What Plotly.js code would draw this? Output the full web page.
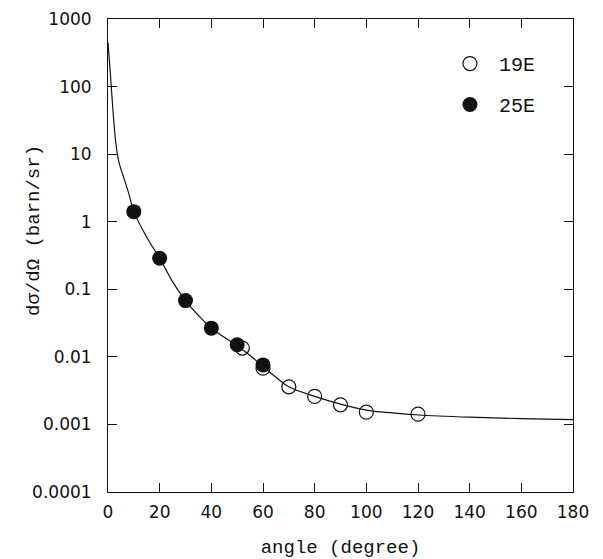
<!DOCTYPE html>
<html><head><meta charset="utf-8">
<script src="https://cdn.plot.ly/plotly-3.0.1.min.js"></script>
<style>body{margin:0;background:#fff}</style>
</head><body><div id="chart" style="width:603px;height:559px"></div>
<script>
// Data
const angle19 = [52, 60, 70, 80, 90, 100, 120];
const xsec19  = [0.0135, 0.0068, 0.0036, 0.0026, 0.00195, 0.00152, 0.00142];
const angle25 = [10, 20, 30, 40, 50, 60];
const xsec25  = [1.41, 0.288, 0.068, 0.0266, 0.0151, 0.0076];
const curveAngle = [0, 1, 2, 3, 4, 5, 6, 8, 10, 15, 20, 25, 30, 35, 40, 45, 50, 55, 60, 65, 70, 80, 90, 100, 110, 120, 140, 160, 180];
const curveXsec  = [450, 140, 40, 15, 8.3, 6.0, 4.6, 2.65, 1.41, 0.59, 0.288, 0.13, 0.068, 0.041, 0.0266, 0.0195, 0.0145, 0.0105, 0.0072, 0.005, 0.0036, 0.0026, 0.002, 0.00163, 0.00148, 0.00138, 0.00128, 0.00122, 0.00118];
const xTickVals = [0, 20, 40, 60, 80, 100, 120, 140, 160, 180];
const yTickVals = [0.0001, 0.001, 0.01, 0.1, 1, 10, 100, 1000];
const yTickText = ["0.0001", "0.001", "0.01", "0.1", "1", "10", "100", "1000"];

const ink = '#111';
const monoFont = 'Liberation Mono, DejaVu Sans Mono, monospace';
const traces = [
  {x: curveAngle, y: curveXsec, mode: 'lines', line: {color: ink, width: 1.2, shape: 'spline', smoothing: 1}, showlegend: false, hoverinfo: 'skip'},
  {x: angle19, y: xsec19, mode: 'markers', name: '19E', legendgroup: 'a',
   marker: {symbol: 'circle-open', size: 14, color: ink, line: {width: 1.2, color: ink}}},
  {x: angle25, y: xsec25, mode: 'markers', name: '25E', legendgroup: 'b',
   marker: {symbol: 'circle', size: 15, color: ink}}
];

const axisCommon = {
  showline: true, linecolor: ink, linewidth: 1, mirror: 'ticks',
  ticks: 'inside', ticklen: 9, tickwidth: 1, tickcolor: ink,
  showgrid: false, zeroline: false,
  tickfont: {family: 'DejaVu Sans', size: 17, color: ink}
};

const layout = {
  width: 603, height: 559,
  margin: {l: 108, r: 30, t: 19, b: 67},
  paper_bgcolor: '#fff', plot_bgcolor: '#fff',
  showlegend: true,
  legend: {x: 0.716, y: 0.947, xanchor: 'left', yanchor: 'top', bgcolor: 'rgba(0,0,0,0)', itemwidth: 48,
           font: {family: monoFont, size: 20, color: ink}, tracegroupgap: 12, traceorder: 'grouped'},
  xaxis: Object.assign({}, axisCommon, {
    range: [0, 180], tickvals: xTickVals, ticklabelstandoff: 5,
    title: {text: 'angle (degree)', font: {family: monoFont, size: 19, color: ink}, standoff: 18}
  }),
  yaxis: Object.assign({}, axisCommon, {
    type: 'log', range: [-4, 3], tickvals: yTickVals, ticktext: yTickText, ticklabelstandoff: 12
  }),
  annotations: [{
    text: 'dσ/dΩ (barn/sr)', textangle: -90, showarrow: false,
    xref: 'paper', yref: 'paper', x: -0.159, y: 0.552, xanchor: 'center', yanchor: 'middle',
    font: {family: monoFont, size: 19, color: ink}
  }]
};

Plotly.newPlot('chart', traces, layout, {displayModeBar: false, staticPlot: true});
</script>
</body></html>
